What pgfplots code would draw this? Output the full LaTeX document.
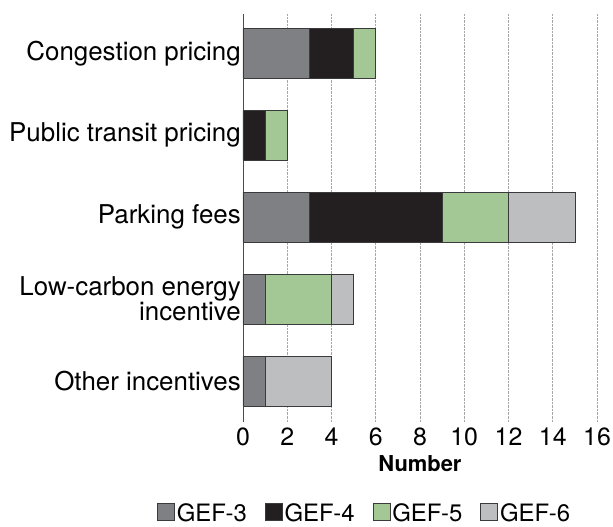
\documentclass[border=0pt]{standalone}
\usepackage{pgfplots}
\pgfplotsset{compat=1.18}
\usepackage{fontspec}
\setmainfont{TeX Gyre Heros}
\definecolor{gthree}{HTML}{7F8083}
\definecolor{gfour}{HTML}{231F20}
\definecolor{gfive}{HTML}{A3C795}
\definecolor{gsix}{HTML}{BCBEC0}
\definecolor{edge}{HTML}{3A3A3C}
\begin{document}
\begin{tikzpicture}
\begin{axis}[
  name=ax,
  xbar stacked,
  scale only axis,
  width=354bp, height=408bp,
  xmin=0, xmax=16, xtick={0,2,...,16},
  ymin=-0.48, ymax=4.5, y dir=reverse,
  ytick={0,1,2,3,4},
  yticklabels={Congestion pricing, Public transit pricing, Parking fees, {Low-carbon energy\\incentive}, Other incentives},
  yticklabel style={align=right, font=\fontsize{26}{24}\selectfont, inner sep=2bp},
  xticklabel style={font=\fontsize{25}{25}\selectfont, inner sep=0bp, yshift=-6bp},
  /pgf/number format/assume math mode=true,
  major tick length=0pt,
  axis x line*=bottom, axis y line*=left,
  x axis line style={draw=none},
  y axis line style={draw=black!70, line width=0.8bp, -},
  xmajorgrids,
  major grid style={densely dotted, black!35, line width=0.6bp},
  xlabel={Number},
  xlabel style={font=\bfseries\fontsize{22}{22}\selectfont, yshift=-6bp},
  bar width=0.61,
  every axis plot/.append style={draw=edge, line width=0.7bp},
  legend style={at={(-0.243,-0.224)}, anchor=west, legend columns=4, draw=none,
    font=\fontsize{24}{24}\selectfont, inner sep=0bp,
    /tikz/every even column/.append style={column sep=16bp},
    /tikz/every odd column/.append style={column sep=0bp}},
  legend image code/.code={\draw[#1] (0bp,-7bp) rectangle (17bp,10bp);},
]
\addplot[fill=gthree] coordinates {(3,0) (0,1) (3,2) (1,3) (1,4)};
\addplot[fill=gfour] coordinates {(2,0) (1,1) (6,2) (0,3) (0,4)};
\addplot[fill=gfive] coordinates {(1,0) (1,1) (3,2) (3,3) (0,4)};
\addplot[fill=gsix] coordinates {(0,0) (0,1) (3,2) (1,3) (3,4)};
\legend{GEF-3, GEF-4, GEF-5, GEF-6}
\end{axis}
\pgfresetboundingbox
\path ([xshift=-243bp,yshift=14bp]ax.north west) rectangle ([xshift=16bp,yshift=-105bp]ax.south east);
\end{tikzpicture}
\end{document}
